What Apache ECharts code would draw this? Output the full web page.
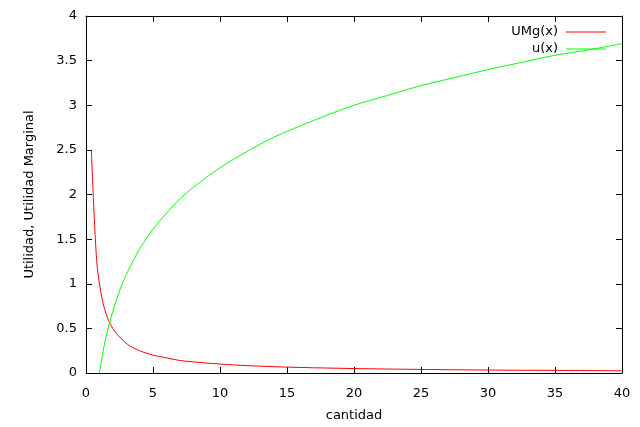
<!DOCTYPE html>
<html><head><meta charset="utf-8">
<script src="https://cdn.jsdelivr.net/npm/echarts@6/dist/echarts.min.js"></script>
<style>html,body{margin:0;padding:0;background:#fff}#c{width:640px;height:427px}</style>
</head><body><div id="c"></div>
<script>
// UMg(x)
const umgX = [0.4, 0.8, 1.2, 1.6, 2.0, 2.4, 2.8, 3.2, 4, 5, 6, 7, 8, 10, 12, 14, 16, 20, 25, 30, 35, 40];
const umgY = [2.5, 1.25, 0.83, 0.62, 0.5, 0.42, 0.36, 0.31, 0.25, 0.2, 0.17, 0.14, 0.125, 0.1, 0.083, 0.071, 0.062, 0.05, 0.04, 0.033, 0.029, 0.025];
// u(x)
const uX = [1, 1.2, 1.5, 2, 2.5, 3, 3.5, 4, 5, 6, 7, 8, 10, 12, 14, 16, 18, 20, 22.5, 25, 27.5, 30, 32.5, 35, 37.5, 40];
const uY = [0, 0.18, 0.41, 0.69, 0.92, 1.10, 1.25, 1.39, 1.61, 1.79, 1.95, 2.08, 2.30, 2.48, 2.64, 2.77, 2.89, 3.00, 3.11, 3.22, 3.31, 3.40, 3.48, 3.56, 3.62, 3.69];
const xTicks = [0, 5, 10, 15, 20, 25, 30, 35, 40];
const yTicks = [0, 0.5, 1, 1.5, 2, 2.5, 3, 3.5, 4];

const font = 'DejaVu Sans';
const zip = (xs, ys) => xs.map((x, i) => [x, ys[i]]);
const chart = echarts.init(document.getElementById('c'), null, {renderer: 'canvas'});
const baseX = {type: 'value', min: xTicks[0], max: xTicks[xTicks.length - 1], interval: xTicks[1] - xTicks[0]};
const baseY = {type: 'value', min: yTicks[0], max: yTicks[yTicks.length - 1], interval: yTicks[1] - yTicks[0]};
const axisLine = {show: true, onZero: false, lineStyle: {color: '#000', width: 1}};
const tick = {show: true, inside: true, length: 6, lineStyle: {color: '#000'}};
chart.setOption({
  animation: false,
  backgroundColor: '#fff',
  textStyle: {fontFamily: font},
  grid: {left: 86, right: 18, top: 16, bottom: 54, containLabel: false, outerBoundsMode: 'none'},
  legend: {
    orient: 'vertical', right: 29, top: 20, align: 'right',
    icon: 'rect', itemWidth: 40, itemHeight: 1, itemGap: 3,
    textStyle: {fontFamily: font, fontSize: 13, color: '#000', padding: [0, 3, 0, 0], lineHeight: 14},
    data: ['UMg(x)', 'u(x)']
  },
  xAxis: [
    Object.assign({}, baseX, {position: 'bottom', name: 'cantidad', nameLocation: 'middle', nameGap: 36,
      nameTextStyle: {fontFamily: font, fontSize: 13, color: '#000'},
      axisLine, axisTick: tick, splitLine: {show: false},
      axisLabel: {color: '#000', fontFamily: font, fontSize: 13, margin: 14}}),
    Object.assign({}, baseX, {position: 'top', axisLine, axisTick: tick, splitLine: {show: false}, axisLabel: {show: false}})
  ],
  yAxis: [
    Object.assign({}, baseY, {position: 'left', name: 'Utilidad, Utilidad Marginal', nameLocation: 'middle', nameGap: 50,
      nameTextStyle: {fontFamily: font, fontSize: 13, color: '#000'},
      axisLine, axisTick: tick, splitLine: {show: false},
      axisLabel: {color: '#000', fontFamily: font, fontSize: 13, margin: 9}}),
    Object.assign({}, baseY, {position: 'right', axisLine, axisTick: tick, splitLine: {show: false}, axisLabel: {show: false}})
  ],
  series: [
    {name: 'UMg(x)', type: 'line', data: zip(umgX, umgY), smooth: 0.3, symbol: 'none',
      itemStyle: {color: '#ff0000'}, lineStyle: {color: '#ff0000', width: 1}},
    {name: 'u(x)', type: 'line', data: zip(uX, uY), smooth: 0.3, symbol: 'none',
      itemStyle: {color: '#00ff00'}, lineStyle: {color: '#00ff00', width: 1}}
  ]
});
</script></body></html>
